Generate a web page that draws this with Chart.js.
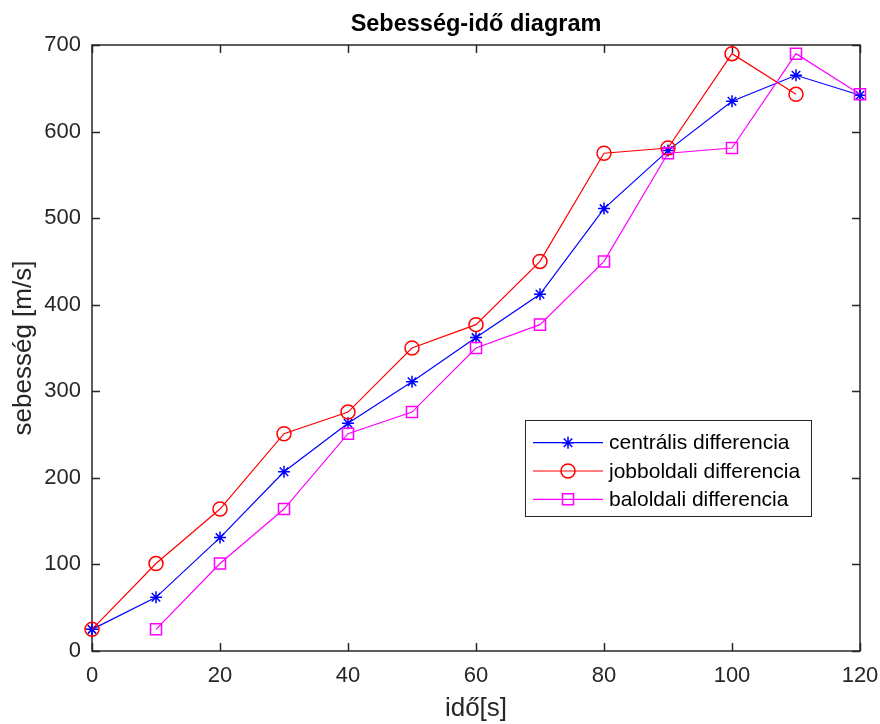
<!DOCTYPE html>
<html>
<head>
<meta charset="utf-8">
<script src="https://cdn.jsdelivr.net/npm/chart.js@4/dist/chart.umd.min.js"></script>
<style>html,body{margin:0;padding:0;background:#fff;}canvas{display:block;}</style>
</head>
<body>
<canvas id="c" width="880" height="724"></canvas>
<script>
// ---- data ----
const times      = [0, 10, 20, 30, 40, 50, 60, 70, 80, 90, 100, 110, 120];
const centralis  = [25, 62, 131, 207, 263, 311, 362, 412, 511, 578, 635, 665, 642];
const jobboldali = [25, 101, 164, 251, 276, 350, 377, 450, 575, 581, 690, 643, null];
const baloldali  = [null, 25, 101, 164, 251, 276, 350, 377, 450, 575, 581, 690, 643];
const xTickValues = [0, 20, 40, 60, 80, 100, 120];
const yTickValues = [0, 100, 200, 300, 400, 500, 600, 700];
const seriesNames = ['centrális differencia', 'jobboldali differencia', 'baloldali differencia'];
const titleText = 'Sebesség-idő diagram';
const xTitle = 'idő[s]';
const yTitle = 'sebesség [m/s]';

const FONT = '"Liberation Sans", Arial, Helvetica, sans-serif';
const AX = '#262626';
const COLORS = ['#0000FF', '#FF0000', '#FF00FF'];
const STYLES = ['star', 'circle', 'rect'];
const RADII = [6, 7, 7.8];

const toPts = arr => times.map((t, i) => ({x: t, y: arr[i]}));

function drawMarker(ctx, style, x, y, r, color) {
  ctx.save();
  ctx.strokeStyle = color; ctx.lineWidth = 1.5;
  ctx.beginPath();
  if (style === 'circle') {
    ctx.arc(x, y, r, 0, Math.PI * 2);
  } else if (style === 'rect') {
    const s = r * Math.SQRT1_2;
    ctx.rect(x - s, y - s, 2 * s, 2 * s);
  } else {
    const d = r * Math.SQRT1_2;
    ctx.moveTo(x - r, y); ctx.lineTo(x + r, y);
    ctx.moveTo(x, y - r); ctx.lineTo(x, y + r);
    ctx.moveTo(x - d, y - d); ctx.lineTo(x + d, y + d);
    ctx.moveTo(x - d, y + d); ctx.lineTo(x + d, y - d);
  }
  ctx.stroke();
  ctx.restore();
}

const framePlugin = {
  id: 'frame',
  beforeDatasetsDraw(chart) {
    const {ctx, chartArea: a, scales: {x, y}} = chart;
    ctx.save();
    ctx.strokeStyle = AX; ctx.lineWidth = 1.5;
    ctx.strokeRect(a.left, a.top, a.right - a.left, a.bottom - a.top);
    ctx.beginPath();
    const L = 8;
    x.ticks.forEach(t => {
      const px = Math.round(x.getPixelForValue(t.value)) + 0.5;
      ctx.moveTo(px, a.bottom); ctx.lineTo(px, a.bottom - L);
      ctx.moveTo(px, a.top); ctx.lineTo(px, a.top + L);
    });
    y.ticks.forEach(t => {
      const py = Math.round(y.getPixelForValue(t.value)) + 0.5;
      ctx.moveTo(a.left, py); ctx.lineTo(a.left + L, py);
      ctx.moveTo(a.right, py); ctx.lineTo(a.right - L, py);
    });
    ctx.stroke();
    ctx.restore();
  }
};

const legendPlugin = {
  id: 'boxLegend',
  afterDraw(chart) {
    const ctx = chart.ctx;
    const bx = 525, by = 420, bw = 286, bh = 96;
    ctx.save();
    ctx.fillStyle = '#fff';
    ctx.fillRect(bx, by, bw, bh);
    ctx.strokeStyle = AX; ctx.lineWidth = 1;
    ctx.strokeRect(bx + 0.5, by + 0.5, bw, bh);
    ctx.font = '21px ' + FONT;
    ctx.textBaseline = 'middle';
    ctx.textAlign = 'left';
    chart.data.datasets.forEach((ds, i) => {
      const ry = by + 22.7 + i * 28.3;
      ctx.strokeStyle = COLORS[i]; ctx.lineWidth = 1.2;
      ctx.beginPath(); ctx.moveTo(533, ry); ctx.lineTo(603, ry); ctx.stroke();
      drawMarker(ctx, STYLES[i], 568, ry, RADII[i], COLORS[i]);
      ctx.fillStyle = '#000';
      ctx.fillText(ds.label, 609, ry + 1);
    });
    ctx.restore();
  }
};

const datasets = [centralis, jobboldali, baloldali].map((arr, i) => ({
  label: seriesNames[i],
  data: toPts(arr),
  borderColor: COLORS[i],
  backgroundColor: 'rgba(0,0,0,0)',
  borderWidth: 1.2,
  pointStyle: STYLES[i],
  pointRadius: RADII[i],
  pointHoverRadius: RADII[i],
  pointBorderColor: COLORS[i],
  pointBackgroundColor: 'rgba(0,0,0,0)',
  pointBorderWidth: 1.5,
  tension: 0,
  order: 3 - i,
  clip: false
}));

new Chart(document.getElementById('c'), {
  type: 'line',
  data: {datasets},
  options: {
    responsive: false,
    animation: false,
    events: [],
    layout: {padding: {left: 0, right: 20, top: 0, bottom: 0}},
    plugins: {
      legend: {display: false},
      tooltip: {enabled: false},
      title: {
        display: true, text: titleText, fullSize: false, color: '#000',
        font: {family: FONT, size: 23.5, weight: 'bold'},
        padding: {top: 10.5, bottom: 6.3}
      }
    },
    scales: {
      x: {
        type: 'linear', min: 0, max: 120,
        afterBuildTicks: s => { s.ticks = xTickValues.map(v => ({value: v})); },
        afterFit: s => { s.height = 73; s.paddingLeft = 0; s.paddingRight = 0; },
        grid: {display: false, drawTicks: false, tickLength: 0},
        border: {display: false},
        ticks: {color: AX, font: {family: FONT, size: 22}, padding: 12, maxRotation: 0},
        title: {display: true, text: xTitle, color: AX, font: {family: FONT, size: 26}, padding: {top: 0, bottom: 0}}
      },
      y: {
        type: 'linear', min: 0, max: 700,
        afterBuildTicks: s => { s.ticks = yTickValues.map(v => ({value: v})); },
        afterFit: s => { s.width = 92; s.paddingTop = 0; s.paddingBottom = 0; },
        grid: {display: false, drawTicks: false, tickLength: 0},
        border: {display: false},
        ticks: {color: AX, font: {family: FONT, size: 22}, padding: 11},
        title: {display: true, text: yTitle, color: AX, font: {family: FONT, size: 26}, padding: {top: 8.4, bottom: 0}}
      }
    }
  },
  plugins: [framePlugin, legendPlugin]
});
</script>
</body>
</html>
